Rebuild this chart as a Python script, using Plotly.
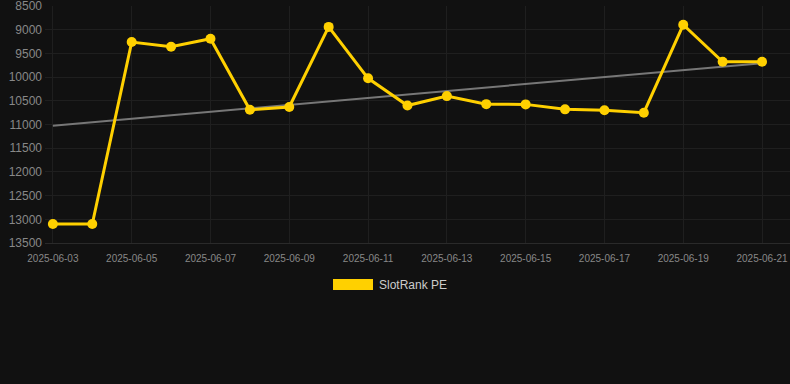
import plotly.graph_objects as go
from datetime import datetime, timedelta

dates = ["2025-06-03", "2025-06-04", "2025-06-05", "2025-06-06", "2025-06-07",
         "2025-06-08", "2025-06-09", "2025-06-10", "2025-06-11", "2025-06-12",
         "2025-06-13", "2025-06-14", "2025-06-15", "2025-06-16", "2025-06-17",
         "2025-06-18", "2025-06-19", "2025-06-20", "2025-06-21"]
rank = [13100, 13100, 9260, 9360, 9190, 10690, 10630, 8940, 10025, 10600,
        10400, 10570, 10575, 10680, 10700, 10750, 8895, 9675, 9675]
trend_dates = ["2025-06-03", "2025-06-21"]
trend_vals = [11025, 9705]
y_ticks = [8500, 9000, 9500, 10000, 10500, 11000, 11500, 12000, 12500, 13000, 13500]
y_labels = [str(v) for v in y_ticks]
x_ticks = ["2025-06-03", "2025-06-05", "2025-06-07", "2025-06-09", "2025-06-11",
           "2025-06-13", "2025-06-15", "2025-06-17", "2025-06-19", "2025-06-21"]
series_name = "SlotRank PE"

fig = go.Figure()
fig.add_trace(go.Scatter(x=trend_dates, y=trend_vals, mode="lines",
                         line=dict(color="#777777", width=2), showlegend=False,
                         hoverinfo="skip"))
fig.add_trace(go.Scatter(x=dates, y=rank, mode="lines+markers", name=series_name,
                         line=dict(color="#FFD000", width=3),
                         marker=dict(color="#FFD000", size=10), showlegend=False,
                         cliponaxis=False))

d0 = datetime(2025, 6, 3)
x_start = d0 - timedelta(days=0.2)
x_end = datetime(2025, 6, 21) + timedelta(days=0.71)

T = 6
B = 141
fig.update_layout(
    width=790, height=384,
    paper_bgcolor="#111111", plot_bgcolor="#111111",
    margin=dict(l=45, r=0, t=T, b=B),
    font=dict(family="Liberation Sans, Arial, sans-serif", color="#888888"),
    xaxis=dict(range=[x_start, x_end], tickvals=x_ticks, ticktext=x_ticks,
               showgrid=True, gridcolor="#1f1f1f", gridwidth=1,
               zeroline=False, showline=True, linecolor="#2a2a2a",
               tickfont=dict(size=10, color="#888888"), ticks="",
               ticklabelstandoff=6, ticklabeloverflow="allow"),
    yaxis=dict(range=[13500, 8499], tickvals=y_ticks, ticktext=y_labels,
               showgrid=True, gridcolor="#1f1f1f", gridwidth=1,
               zeroline=False, showline=False,
               tickfont=dict(size=12, color="#888888"), ticks="",
               ticklabelstandoff=2, ticklabeloverflow="allow"),
    showlegend=False,
)

pw = 790 - 45
def px_x(p):
    return (p - 45) / pw
ph = 384 - B - T
def px_y(p):
    return (384 - B - p) / ph

fig.add_shape(type="rect", xref="paper", yref="paper",
              x0=px_x(333), x1=px_x(373), y0=px_y(290), y1=px_y(279),
              fillcolor="#FFD000", line=dict(width=0))
fig.add_annotation(xref="paper", yref="paper", x=px_x(377), y=px_y(284.5),
                   text=series_name, showarrow=False, xanchor="left", yanchor="middle",
                   font=dict(size=12, color="#cccccc"))

fig.write_html("out.html", config={"displayModeBar": False},
               post_script="document.body.style.margin='0';document.body.style.background='#111111';")
